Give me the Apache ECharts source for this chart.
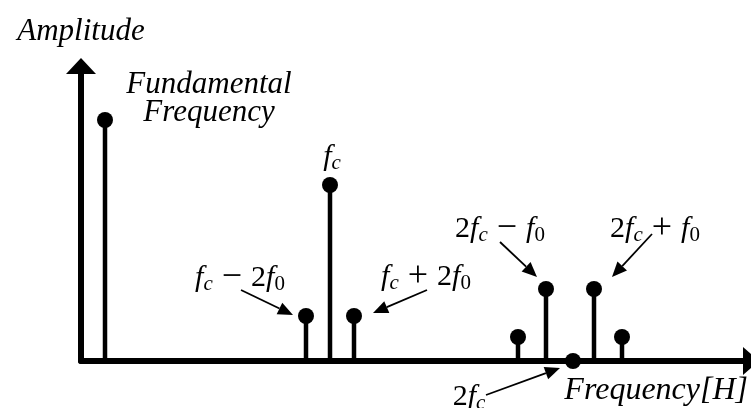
<!DOCTYPE html>
<html>
<head>
<meta charset="utf-8">
<script src="https://cdn.jsdelivr.net/npm/echarts@6/dist/echarts.min.js"></script>
<style>
  html, body { margin: 0; padding: 0; background: #fff; }
  #chart { width: 751px; height: 408px; }
</style>
</head>
<body>
<div id="chart"></div>
<script>
// Spectral lines of the modulated signal: position on the frequency axis and amplitude (arbitrary units)
const lineNames   = ['f0', 'fc-2f0', 'fc', 'fc+2f0', '2fc-2f0', '2fc-f0', '2fc', '2fc+f0', '2fc+2f0'];
const frequencies = [24, 225, 249, 273, 437, 465, 492, 513, 541];
const amplitudes  = [241, 45, 176, 45, 24, 72, 0, 72, 24];

// Axis extents
const freqMax = 670;
const ampMax = 295;

// Axis titles
const xTitle = 'Frequency[H]';
const yTitle = 'Amplitude';

const SERIF = '"Liberation Serif", "Times New Roman", serif';

// Rich-text styles for the formula labels (italic variables, upright digits, subscripts, operators)
const rich = {
  i:  { fontFamily: SERIF, fontStyle: 'italic', fontSize: 30, color: '#000' },
  n:  { fontFamily: SERIF, fontSize: 30, color: '#000' },
  op: { fontFamily: SERIF, fontSize: 36, color: '#000', padding: [0, 9, 0, 9] },
  si: { fontFamily: SERIF, fontStyle: 'italic', fontSize: 21, color: '#000', padding: [13, 0, 0, 0] },
  sn: { fontFamily: SERIF, fontSize: 21, color: '#000', padding: [13, 0, 0, 0] }
};

// Callouts: label text, label offset from the line's dot, optional arrow (start -> tip) offsets
const callouts = [
  { target: 'f0', text: 'Fundamental\nFrequency', plain: true, dx: 104, dy: -21 },
  { target: 'fc', text: '{i|f}{si|c}', dx: 2, dy: -28 },
  { target: 'fc-2f0', text: '{i|f}{si|c}{op|−}{n|2}{i|f}{sn|0}', dx: -66, dy: -38, arrow: [-65, -26, -13, -1] },
  { target: 'fc+2f0', text: '{i|f}{si|c}{op|+}{n|2}{i|f}{sn|0}', dx: 72, dy: -39, arrow: [73, -26, 19, -3] },
  { target: '2fc-f0', text: '{n|2}{i|f}{si|c}{op|−}{i|f}{sn|0}', dx: -46, dy: -60, arrow: [-46, -47, -9, -12] },
  { target: '2fc+f0', text: '{n|2}{i|f}{si|c}{op|+}{i|f}{sn|0}', dx: 61, dy: -60, arrow: [58, -55, 18, -12] },
  { target: '2fc', text: '{n|2}{i|f}{si|c}', dx: -104, dy: 36, arrow: [-87, 34, -13, 7] }
];

const chart = echarts.init(document.getElementById('chart'), null, { renderer: 'canvas' });

const axisLineStyle = { color: '#000', width: 6 };

chart.setOption({
  animation: false,
  backgroundColor: '#fff',
  grid: { left: 81, right: 0, top: 66, bottom: 47, containLabel: false },
  xAxis: {
    type: 'value',
    min: 0,
    max: freqMax,
    name: xTitle,
    nameLocation: 'end',
    nameGap: -3,
    nameTextStyle: {
      fontFamily: SERIF, fontStyle: 'italic', fontSize: 32, color: '#000',
      align: 'right', verticalAlign: 'top', padding: [14, 0, 0, 0]
    },
    axisLine: { show: true, onZero: true, symbol: ['none', 'triangle'], symbolSize: [28, 16], lineStyle: axisLineStyle },
    axisTick: { show: false },
    axisLabel: { show: false },
    splitLine: { show: false }
  },
  yAxis: {
    type: 'value',
    min: 0,
    max: ampMax,
    name: yTitle,
    nameLocation: 'end',
    nameGap: 19,
    nameTextStyle: { fontFamily: SERIF, fontStyle: 'italic', fontSize: 31, color: '#000' },
    axisLine: { show: true, symbol: ['none', 'triangle'], symbolSize: [30, 16], lineStyle: axisLineStyle },
    axisTick: { show: false },
    axisLabel: { show: false },
    splitLine: { show: false }
  },
  series: [{
    type: 'custom',
    name: 'spectrum',
    clip: false,
    data: frequencies.map((f, i) => [f, amplitudes[i]]),
    renderItem(params, api) {
      const top = api.coord([api.value(0), api.value(1)]);
      const base = api.coord([api.value(0), 0]);
      const children = [];
      if (base[1] - top[1] > 1) {
        children.push({
          type: 'line',
          shape: { x1: base[0], y1: base[1], x2: top[0], y2: top[1] },
          style: { stroke: '#000', lineWidth: 4.5 }
        });
      }
      children.push({
        type: 'circle',
        shape: { cx: top[0], cy: top[1], r: 8 },
        style: { fill: '#000' }
      });
      return { type: 'group', children };
    }
  }]
});

// Callout labels and arrows, anchored to the dots of the spectral lines
function arrowElement(x1, y1, x2, y2) {
  const len = Math.hypot(x2 - x1, y2 - y1);
  const ux = (x2 - x1) / len, uy = (y2 - y1) / len;
  const head = 15, half = 6.5;
  const bx = x2 - ux * head, by = y2 - uy * head;
  return {
    type: 'group',
    children: [
      { type: 'line', shape: { x1, y1, x2: bx, y2: by }, style: { stroke: '#000', lineWidth: 1.8 } },
      {
        type: 'polygon',
        shape: { points: [[x2, y2], [bx - uy * half, by + ux * half], [bx + uy * half, by - ux * half]] },
        style: { fill: '#000' }
      }
    ]
  };
}

const graphics = [];
callouts.forEach(c => {
  const idx = lineNames.indexOf(c.target);
  const p = chart.convertToPixel({ seriesIndex: 0 }, [frequencies[idx], amplitudes[idx]]);
  const style = c.plain
    ? { text: c.text, fontFamily: SERIF, fontStyle: 'italic', fontSize: 31, lineHeight: 28, fill: '#000', align: 'center', verticalAlign: 'middle' }
    : { text: c.text, rich, fill: '#000', align: 'center', verticalAlign: 'middle' };
  graphics.push({ type: 'text', x: p[0] + c.dx, y: p[1] + c.dy, style, z: 10 });
  if (c.arrow) {
    const a = c.arrow;
    graphics.push(Object.assign(arrowElement(p[0] + a[0], p[1] + a[1], p[0] + a[2], p[1] + a[3]), { z: 10 }));
  }
});
chart.setOption({ graphic: graphics });
</script>
</body>
</html>
